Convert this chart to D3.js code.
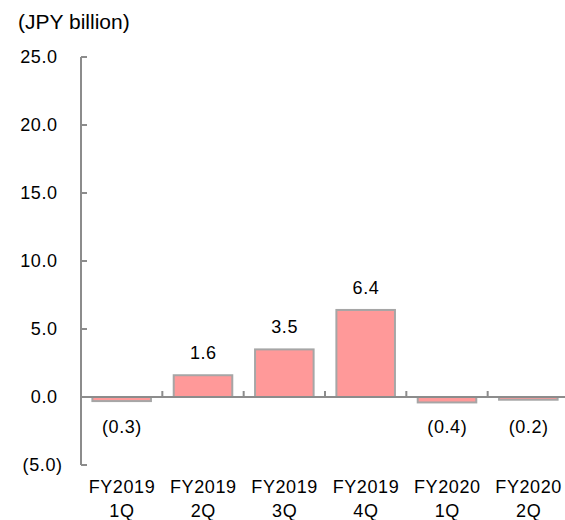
<!DOCTYPE html>
<html>
<head>
<meta charset="utf-8">
<script src="https://cdn.jsdelivr.net/npm/d3@7"></script>
<style>
  html, body { margin: 0; padding: 0; background: #fff; }
  svg { display: block; font-family: Arial, "Liberation Sans", sans-serif; }
</style>
</head>
<body>
<svg id="chart" width="565" height="520"></svg>
<script>
// Quarterly values, JPY billion
const quarters = ["FY2019\n1Q", "FY2019\n2Q", "FY2019\n3Q", "FY2019\n4Q", "FY2020\n1Q", "FY2020\n2Q"];
const values = [-0.3, 1.6, 3.5, 6.4, -0.4, -0.2];
const yTicks = [-5, 0, 5, 10, 15, 20, 25];
const unitLabel = "(JPY billion)";

const svg = d3.select("#chart");
const axisColor = "#8c8c8c";
const fontSize = 18;
const spacing = 0.6;
const plotLeft = 81, plotRight = 569, plotTop = 57, plotBottom = 465;

const x = d3.scaleBand().domain(quarters).range([plotLeft, plotRight]).paddingInner(0.28).paddingOuter(0.14);
const y = d3.scaleLinear().domain([-5, 25]).range([plotBottom, plotTop]);

const fmt = v => v < 0 ? "(" + Math.abs(v).toFixed(1) + ")" : v.toFixed(1);

// Unit caption
svg.append("text").attr("x", 18).attr("y", 29)
  .attr("font-size", 21).attr("fill", "#000").text(unitLabel);

// Y axis line with inward ticks
svg.append("line").attr("x1", plotLeft).attr("x2", plotLeft).attr("y1", y(25)).attr("y2", y(-5))
  .attr("stroke", axisColor).attr("stroke-width", 2);
svg.selectAll(".ytick").data(yTicks).enter().append("line")
  .attr("x1", plotLeft).attr("x2", plotLeft + 6)
  .attr("y1", d => y(d)).attr("y2", d => y(d))
  .attr("stroke", axisColor).attr("stroke-width", 2);
svg.selectAll(".ylab").data(yTicks).enter().append("text")
  .attr("x", d => (d < 0 ? 62 : 57) + spacing)
  .attr("y", d => y(d)).attr("dy", "0.35em")
  .attr("text-anchor", "end").attr("font-size", fontSize)
  .attr("letter-spacing", spacing).attr("fill", "#000")
  .text(fmt);

// Bars
svg.selectAll(".bar").data(values).enter().append("rect")
  .attr("x", (d, i) => x(quarters[i]))
  .attr("width", x.bandwidth())
  .attr("y", d => y(Math.max(0, d)))
  .attr("height", d => Math.abs(y(d) - y(0)))
  .attr("fill", "#ff9999")
  .attr("stroke", "#a6a6a6").attr("stroke-width", 2);

// Zero baseline with category separators
svg.append("line").attr("x1", plotLeft).attr("x2", 565).attr("y1", y(0)).attr("y2", y(0))
  .attr("stroke", axisColor).attr("stroke-width", 2);
const step = x.step();
const seps = quarters.slice(1).map(q => x(q) - step * x.paddingInner() / 2);
svg.selectAll(".sep").data(seps).enter().append("line")
  .attr("x1", d => d).attr("x2", d => d)
  .attr("y1", y(0)).attr("y2", y(0) - 6)
  .attr("stroke", axisColor).attr("stroke-width", 2);

// Value labels
svg.selectAll(".val").data(values).enter().append("text")
  .attr("x", (d, i) => x(quarters[i]) + x.bandwidth() / 2 + spacing / 2)
  .attr("y", d => d >= 0 ? y(d) - 16 : 433)
  .attr("text-anchor", "middle").attr("font-size", fontSize)
  .attr("letter-spacing", spacing).attr("fill", "#000")
  .text(fmt);

// Category labels (two lines)
quarters.forEach(q => {
  const lines = q.split("\n");
  const cx = x(q) + x.bandwidth() / 2 + spacing / 2;
  const t = svg.append("text")
    .attr("text-anchor", "middle").attr("font-size", fontSize)
    .attr("letter-spacing", spacing).attr("fill", "#000");
  lines.forEach((ln, k) => {
    t.append("tspan").attr("x", cx).attr("y", 493 + k * 24).text(ln);
  });
});
</script>
</body>
</html>
